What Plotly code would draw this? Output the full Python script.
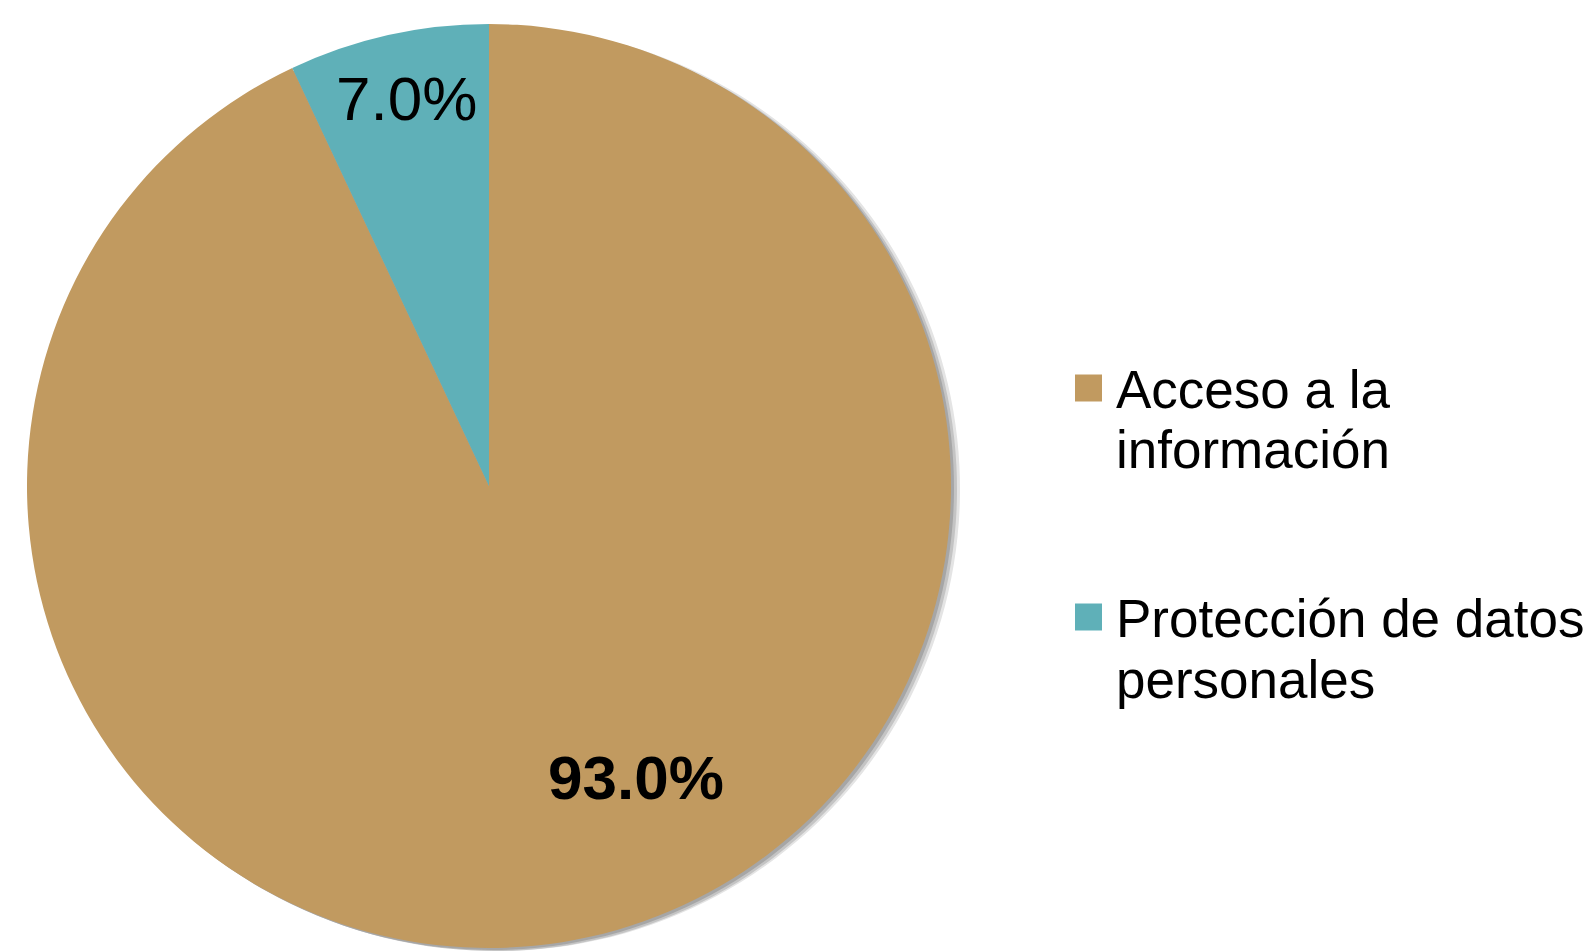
import plotly.graph_objects as go

# datos
categorias = ["Acceso a la información", "Protección de datos personales"]
etiquetas_leyenda = [["Acceso a la", "información"], ["Protección de datos", "personales"]]
valores = [93.0, 7.0]
colores = ["#C19A60", "#5FB0B8"]

W, H = 1593, 951
fuente = "Liberation Sans, Arial, sans-serif"


def px_x(x):
    return x / W


def px_y(y):
    return min(1, max(0, 1 - y / H))


fig = go.Figure()

# caja del pastel en píxeles: izquierda, derecha, arriba, abajo
izq, der, arr, aba = 27, 951, 24, 948

# sombra del pastel (capas desplazadas abajo/derecha)
for dx, dy, gris in [(9, 3, "#E4E4E4"), (6, 3, "#C4C4C4"), (3, 2, "#A6A6A6")]:
    fig.add_trace(go.Pie(
        labels=categorias, values=valores, sort=False, direction="clockwise", rotation=0,
        marker=dict(colors=[gris] * len(valores), line=dict(width=0)),
        textinfo="none", hoverinfo="skip", showlegend=False,
        domain=dict(x=[px_x(izq + dx), px_x(der + dx)], y=[px_y(aba + dy), px_y(arr + dy)]),
    ))

# pastel principal
fig.add_trace(go.Pie(
    labels=categorias, values=valores, sort=False, direction="clockwise", rotation=0,
    marker=dict(colors=colores, line=dict(width=0)),
    textinfo="none", showlegend=False,
    domain=dict(x=[px_x(izq), px_x(der)], y=[px_y(aba), px_y(arr)]),
))

# etiquetas de porcentaje
pos_etiquetas = [(636, 777, True), (406, 98, False)]
for v, (x, y, negrita) in zip(valores, pos_etiquetas):
    txt = f"{v:.1f}%"
    if negrita:
        txt = f"<b>{txt}</b>"
    fig.add_annotation(x=px_x(x), y=px_y(y), xref="paper", yref="paper", text=txt,
                       showarrow=False, xanchor="center", yanchor="middle",
                       font=dict(family=fuente, size=62, color="black"))

# leyenda manual (cuadrados grandes y texto en dos líneas)
y0, paso = 388, 229
for i, (lineas, color) in enumerate(zip(etiquetas_leyenda, colores)):
    yc = y0 + i * paso
    fig.add_shape(type="rect", xref="paper", yref="paper",
                  x0=px_x(1075), x1=px_x(1102), y0=px_y(yc + 13.5), y1=px_y(yc - 13.5),
                  fillcolor=color, line=dict(width=0))
    for j, linea in enumerate(lineas):
        fig.add_annotation(x=px_x(1114), y=px_y(yc + 1 + j * 61), xref="paper", yref="paper",
                           text=linea, showarrow=False, xanchor="left", yanchor="middle",
                           font=dict(family=fuente, size=53, color="black"))

fig.update_layout(
    width=W, height=H,
    margin=dict(l=0, r=0, t=0, b=0),
    paper_bgcolor="white", plot_bgcolor="white",
    showlegend=False,
)

# quitar el margen por defecto del body
fig.write_html("out.html", config={"displayModeBar": False},
               post_script="document.body.style.margin='0';document.body.style.overflow='hidden';")
